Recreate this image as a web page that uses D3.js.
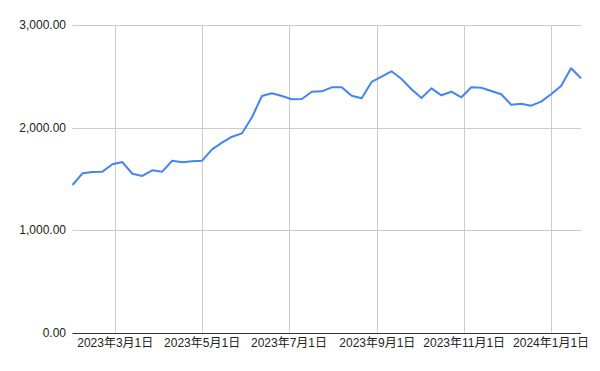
<!DOCTYPE html>
<html>
<head>
<meta charset="utf-8">
<script src="https://cdn.jsdelivr.net/npm/d3@7"></script>
<style>
  body { margin: 0; background: #fff; }
  svg { display: block; font-family: Arial, "Liberation Sans", "Noto Sans CJK JP", sans-serif; }
</style>
</head>
<body>
<svg id="chart"></svg>
<script>
// weekly dates
var dates = [
  "2023-01-30","2023-02-06","2023-02-13","2023-02-20","2023-02-27",
  "2023-03-06","2023-03-13","2023-03-20","2023-03-27",
  "2023-04-03","2023-04-10","2023-04-17","2023-04-24",
  "2023-05-01","2023-05-08","2023-05-15","2023-05-22","2023-05-29",
  "2023-06-05","2023-06-12","2023-06-19","2023-06-26",
  "2023-07-03","2023-07-10","2023-07-17","2023-07-24","2023-07-31",
  "2023-08-07","2023-08-14","2023-08-21","2023-08-28",
  "2023-09-04","2023-09-11","2023-09-18","2023-09-25",
  "2023-10-02","2023-10-09","2023-10-16","2023-10-23","2023-10-30",
  "2023-11-06","2023-11-13","2023-11-20","2023-11-27",
  "2023-12-04","2023-12-11","2023-12-18","2023-12-25",
  "2024-01-01","2024-01-08","2024-01-15","2024-01-22"
];
var values = [
  1439, 1553, 1566, 1569, 1641, 1663, 1549, 1527, 1582, 1569,
  1676, 1660, 1670, 1676, 1787, 1852, 1910, 1943, 2100, 2307,
  2334, 2307, 2275, 2278, 2349, 2353, 2392, 2392, 2310, 2285,
  2444, 2496, 2548, 2473, 2373, 2288, 2382, 2314, 2349, 2295,
  2392, 2388, 2356, 2324, 2222, 2232, 2213, 2252, 2324, 2405,
  2578, 2480
];
var yTicks = [0, 1000, 2000, 3000];
var xTicks = ["2023-03-01","2023-05-01","2023-07-01","2023-09-01","2023-11-01","2024-01-01"];

var W = 600, H = 371;
var plotL = 72.5, plotR = 581, plotT = 25, plotB = 332.5;

var parse = d3.timeParse("%Y-%m-%d");
var data = dates.map(function(d, i){ return {date: parse(d), value: values[i]}; });

var svg = d3.select("#chart").attr("width", W).attr("height", H);

var xScale = d3.scaleTime()
  .domain(d3.extent(data, function(d){ return d.date; }))
  .range([plotL, plotR]);
var yScale = d3.scaleLinear()
  .domain([0, 3000])
  .range([plotB, plotT]);

// horizontal grid
svg.append("g").selectAll("line")
  .data(yTicks.filter(function(t){ return t > 0; }))
  .enter().append("line")
  .attr("x1", plotL).attr("x2", plotR)
  .attr("y1", function(t){ return Math.round(yScale(t)) + 0.5; })
  .attr("y2", function(t){ return Math.round(yScale(t)) + 0.5; })
  .attr("stroke", "#cccccc").attr("stroke-width", 1);

// vertical grid
svg.append("g").selectAll("line")
  .data(xTicks.map(parse))
  .enter().append("line")
  .attr("x1", function(d){ return Math.round(xScale(d)) + 0.5; })
  .attr("x2", function(d){ return Math.round(xScale(d)) + 0.5; })
  .attr("y1", plotT).attr("y2", plotB)
  .attr("stroke", "#cccccc").attr("stroke-width", 1);

// y labels
var fmtY = d3.format(",.2f");
svg.append("g").selectAll("text")
  .data(yTicks)
  .enter().append("text")
  .attr("x", 66)
  .attr("y", function(t){ return yScale(t) + 4; })
  .attr("text-anchor", "end")
  .attr("font-size", 12)
  .attr("fill", "#222")
  .text(function(t){ return fmtY(t); });

// x labels
var fmtX = d3.timeFormat("%Y年%-m月%-d日");
svg.append("g").selectAll("text")
  .data(xTicks.map(parse))
  .enter().append("text")
  .attr("x", function(d){ return xScale(d); })
  .attr("y", 347)
  .attr("text-anchor", "middle")
  .attr("font-size", 12)
  .attr("fill", "#222")
  .text(function(d){ return fmtX(d); });

// line
var line = d3.line()
  .x(function(d){ return xScale(d.date); })
  .y(function(d){ return yScale(d.value); });

svg.append("path")
  .datum(data)
  .attr("d", line)
  .attr("fill", "none")
  .attr("stroke", "#4285f4")
  .attr("stroke-width", 2)
  .attr("stroke-linejoin", "round");

// baseline
svg.append("line")
  .attr("x1", plotL).attr("x2", plotR)
  .attr("y1", Math.round(yScale(0)) + 0.5).attr("y2", Math.round(yScale(0)) + 0.5)
  .attr("stroke", "#333333").attr("stroke-width", 1);
</script>
</body>
</html>
